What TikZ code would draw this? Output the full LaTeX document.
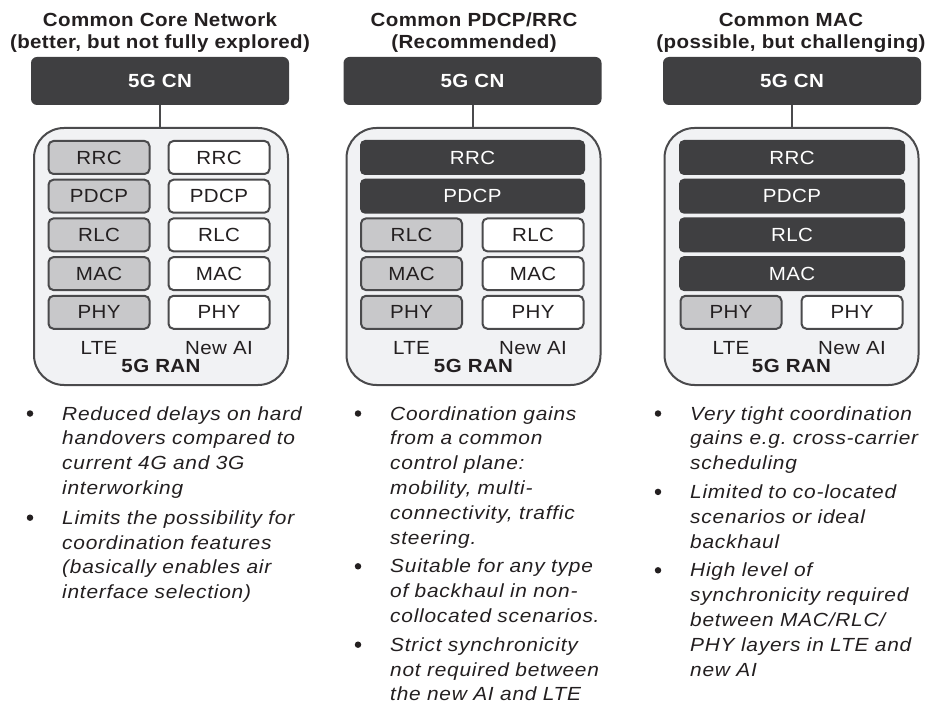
\documentclass[tikz,border=0pt]{standalone}
\usepackage{fontspec}
\setmainfont{Liberation Sans}[FakeStretch=1.08, LetterSpace=2, ItalicFeatures={FakeStretch=1.1, LetterSpace=4}]
\usetikzlibrary{positioning}
\definecolor{darkbox}{HTML}{3F3F41}
\definecolor{ltefill}{HTML}{C8C8CA}
\definecolor{edge}{HTML}{4A4A4C}
\definecolor{ranfill}{HTML}{F1F2F4}
\definecolor{ink}{HTML}{231F20}
\newcommand\lyr{\fontsize{19}{22}\selectfont}
\newcommand\bul{\fontsize{19}{24.8}\selectfont\frenchspacing}
\tikzset{%
    ttl/.style={font=\bfseries\fontsize{19}{22.5}\selectfont, align=center, text=ink, inner sep=0pt, anchor=base},
    cn/.style={rectangle, rounded corners=6pt, fill=darkbox, text=white, font=\bfseries\lyr, minimum width=258pt, minimum height=48pt, inner sep=0pt},
    ran/.style={rectangle, rounded corners=30pt, draw=edge, line width=2pt, fill=ranfill, minimum width=254pt, minimum height=257pt, inner sep=0pt},
    lay/.style={rectangle, rounded corners=5pt, draw=edge, line width=2pt, minimum width=101pt, minimum height=33pt, inner sep=0pt, font=\lyr, text=ink},
    lte/.style={lay, fill=ltefill},
    nai/.style={lay, fill=white},
    com/.style={rectangle, rounded corners=5pt, fill=darkbox, text=white, minimum width=225pt, minimum height=35pt, inner sep=0pt, font=\lyr},
    lbl/.style={font=\lyr, text=ink, inner sep=0pt, anchor=base},
    rlb/.style={font=\bfseries\lyr, text=ink, inner sep=0pt, anchor=base},
    con/.style={draw=edge, line width=2pt},
    itm/.style={font=\itshape\bul, text width=250pt, align=left, text=ink, inner sep=0pt, anchor=base west},
    dot/.style={circle, fill=ink, minimum size=6.5pt, inner sep=0pt},
}
\begin{document}
\begin{tikzpicture}[x=1pt,y=-1pt]
    \useasboundingbox (0,0) rectangle (932,711);
    % titles
    \node[ttl] (tA) at (160,49) {Common Core Network\\(better, but not fully explored)};
    \node[ttl] (tB) at (474,49) {Common PDCP/RRC\\(Recommended)};
    \node[ttl] (tC) at (791,49) {Common MAC\\(possible, but challenging)};
    % core network boxes
    \node[cn] (cnA) at (160,81) {5G CN};
    \node[cn] (cnB) at (472.5,81) {5G CN};
    \node[cn] (cnC) at (792,81) {5G CN};
    % RAN boxes
    \node[ran] (ranA) at (161,256.5) {};
    \node[ran] (ranB) at (473.5,256.5) {};
    \node[ran] (ranC) at (791.5,256.5) {};
    \draw[con] (cnA.south) -- (cnA.south |- ranA.north);
    \draw[con] (cnB.south) -- (cnB.south |- ranB.north);
    \draw[con] (cnC.south) -- (cnC.south |- ranC.north);
    % common core network: two full stacks
    \foreach \lay [count=\i] in {RRC,PDCP,RLC,MAC,PHY} {
        \node[lte] (ltA\i) at (99,118.8+38.7*\i) {\lay};
        \node[nai] (naA\i) at (219,118.8+38.7*\i) {\lay};
    }
    % common PDCP/RRC
    \node[com] (cmB1) at (472.5,157.5) {RRC};
    \node[com] (cmB2) at (472.5,196.2) {PDCP};
    \foreach \lay [count=\i from 3] in {RLC,MAC,PHY} {
        \node[lte] (ltB\i) at (411.5,118.8+38.7*\i) {\lay};
        \node[nai] (naB\i) at (533,118.8+38.7*\i) {\lay};
    }
    % common MAC
    \foreach \lay [count=\i] in {RRC,PDCP,RLC,MAC}
        \node[com, minimum width=226pt] (cmC\i) at (792,118.8+38.7*\i) {\lay};
    \node[lte] (ltC5) at (731,312.3) {PHY};
    \node[nai] (naC5) at (852,312.3) {PHY};
    % stack labels
    \node[lbl] (lA) at (99,355) {LTE};
    \node[lbl] (nA) at (219,355) {New AI};
    \node[rlb] (rA) at (161,373) {5G RAN};
    \node[lbl] (lB) at (411.5,355) {LTE};
    \node[lbl] (nB) at (533,355) {New AI};
    \node[rlb] (rB) at (473.5,373) {5G RAN};
    \node[lbl] (lC) at (731,355) {LTE};
    \node[lbl] (nC) at (852,355) {New AI};
    \node[rlb] (rC) at (791.5,373) {5G RAN};
    % bullet lists
    \node[itm] (iA1) at (62,420) {Reduced delays on hard\\handovers compared to\\current 4G and 3G\\interworking};
    \node[itm] (iA2) at (62,524.2) {Limits the possibility for\\coordination features\\(basically enables air\\interface selection)};
    \node[itm] (iB1) at (390,420) {Coordination gains\\from a common\\control plane:\\mobility, multi-\\connectivity, traffic\\steering.};
    \node[itm] (iB2) at (390,572.8) {Suitable for any type\\of backhaul in non-\\collocated scenarios.};
    \node[itm] (iB3) at (390,651.2) {Strict synchronicity\\not required between\\the new AI and LTE};
    \node[itm] (iC1) at (690,420) {Very tight coordination\\gains e.g. cross-carrier\\scheduling};
    \node[itm] (iC2) at (690,498.4) {Limited to co-located\\scenarios or ideal\\backhaul};
    \node[itm] (iC3) at (690,576.8) {High level of\\synchronicity required\\between MAC/RLC/\\PHY layers in LTE and\\new AI};
    \foreach \it in {iA1,iA2,iB1,iB2,iB3,iC1,iC2,iC3}
        \node[dot] at ([shift={(-32,-6.5)}]\it.base west) {};
\end{tikzpicture}
\end{document}
